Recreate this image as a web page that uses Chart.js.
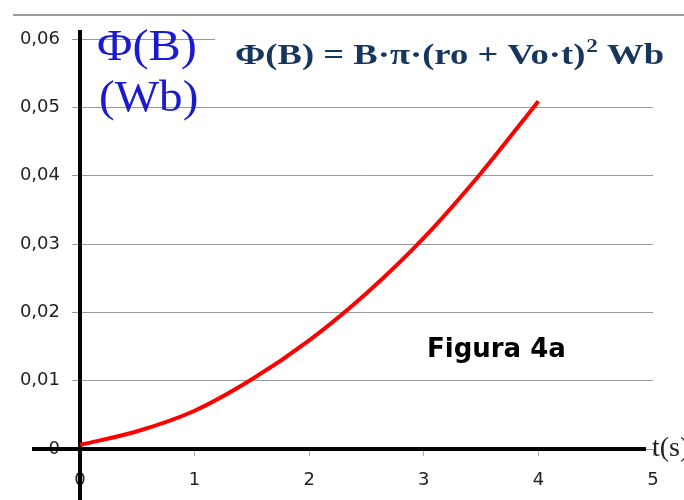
<!DOCTYPE html>
<html>
<head>
<meta charset="utf-8">
<script src="https://cdn.jsdelivr.net/npm/chart.js@4/dist/chart.umd.min.js"></script>
<style>
  html, body { margin: 0; padding: 0; background: #fff; }
  #wrap { width: 684px; height: 500px; position: relative; }
</style>
</head>
<body>
<div id="wrap"><canvas id="chart" width="684" height="500"></canvas></div>
<script>
'use strict';

// ── Data ─────────────────────────────────────────────────────────────────────
const TIMES   = [0, 0.5, 1, 1.5, 2, 2.5, 3, 3.5, 4];
const FLUX    = [0.0006, 0.0026, 0.0056, 0.0102, 0.0159, 0.0228, 0.0309, 0.0404, 0.0509];
const X_TICKS = [0, 1, 2, 3, 4, 5];
const Y_TICKS = [0, 0.01, 0.02, 0.03, 0.04, 0.05, 0.06];

const Y_LABEL   = ['Φ(B)', '(Wb)'];
const FORMULA   = ['Φ(B) = B·π·(ro + Vo·t)', '2', ' Wb'];
const FIG_LABEL = 'Figura 4a';
const X_LABEL   = 't(s)';

const TICK_FONT = { family: 'DejaVu Sans', size: 18 };

function fmtY(v) {
  return v === 0 ? '0' : v.toFixed(2).replace('.', ',');
}

// draw text stretched horizontally by sx, starting at x
function wideText(ctx, txt, x, y, sx) {
  ctx.save();
  ctx.translate(x, y);
  ctx.scale(sx, 1);
  ctx.fillText(txt, 0, 0);
  ctx.restore();
  return ctx.measureText(txt).width * sx;
}

// ── Decorations: axes, frame line, texts ─────────────────────────────────────
const decor = {
  id: 'decor',
  beforeDatasetsDraw(chart) {
    const { ctx, scales: { x, y } } = chart;
    const x0 = x.getPixelForValue(0);
    const y0 = y.getPixelForValue(0);
    ctx.save();
    // top frame line
    ctx.strokeStyle = '#9a9a9a';
    ctx.lineWidth = 2;
    ctx.beginPath(); ctx.moveTo(13, 15); ctx.lineTo(684, 15); ctx.stroke();
    // axes
    ctx.strokeStyle = '#000';
    ctx.lineWidth = 4;
    ctx.beginPath(); ctx.moveTo(32, y0); ctx.lineTo(646, y0); ctx.stroke();
    ctx.beginPath(); ctx.moveTo(x0, 30); ctx.lineTo(x0, 500); ctx.stroke();
    ctx.restore();
  },
  afterDraw(chart) {
    const { ctx } = chart;
    ctx.save();
    // white box behind the formula hides the top gridline
    ctx.fillStyle = '#fff';
    ctx.fillRect(215, 24, 469, 60);

    // formula (stretched to the reference width)
    ctx.fillStyle = '#17365d';
    ctx.textBaseline = 'alphabetic';
    const sx = 1.22;
    let fx = 235;
    ctx.font = 'bold 30px "Liberation Serif"';
    fx += wideText(ctx, FORMULA[0], fx, 64, sx);
    ctx.font = 'bold 19px "Liberation Serif"';
    fx += wideText(ctx, FORMULA[1], fx + 1, 52, sx) + 1;
    ctx.font = 'bold 30px "Liberation Serif"';
    wideText(ctx, FORMULA[2], fx, 64, sx);

    // y-axis label
    ctx.fillStyle = '#1a1ad0';
    ctx.font = '44px "Liberation Serif"';
    wideText(ctx, Y_LABEL[0], 97, 60, 1.1);
    wideText(ctx, Y_LABEL[1], 99, 111, 1.07);

    // figure label
    ctx.fillStyle = '#000';
    ctx.font = 'bold 26px "DejaVu Sans"';
    ctx.fillText(FIG_LABEL, 427, 357);

    // x-axis label
    ctx.fillStyle = '#222';
    ctx.font = '28px "Liberation Serif"';
    ctx.fillText(X_LABEL, 652, 456);
    ctx.restore();
  }
};

// ── Chart ────────────────────────────────────────────────────────────────────
new Chart(document.getElementById('chart'), {
  type: 'line',
  data: {
    datasets: [{
      data: TIMES.map((t, i) => ({ x: t, y: FLUX[i] })),
      borderColor: '#ff0000',
      borderWidth: 4,
      pointRadius: 0,
      tension: 0.4,
      cubicInterpolationMode: 'monotone',
      fill: false,
    }],
  },
  options: {
    responsive: false,
    animation: false,
    layout: { padding: { top: 39, right: 31, left: 0, bottom: 0 } },
    plugins: { legend: { display: false }, tooltip: { enabled: false } },
    scales: {
      x: {
        type: 'linear', min: 0, max: 5,
        afterBuildTicks: s => { s.ticks = X_TICKS.map(v => ({ value: v })); },
        afterFit: s => { s.height = 51; },
        ticks: { color: '#222', font: TICK_FONT, padding: 14, maxRotation: 0 },
        grid: { drawOnChartArea: false, drawTicks: true, tickLength: 7, color: '#aaa' },
        border: { display: false },
      },
      y: {
        min: 0, max: 0.06,
        afterBuildTicks: s => { s.ticks = Y_TICKS.map(v => ({ value: v })); },
        afterFit: s => { s.width = 80; },
        ticks: { color: '#222', font: TICK_FONT, padding: 12, callback: v => fmtY(v) },
        grid: { color: '#9a9a9a', lineWidth: 1, tickLength: 8 },
        border: { display: false },
      },
    },
  },
  plugins: [decor],
});
</script>
</body>
</html>
